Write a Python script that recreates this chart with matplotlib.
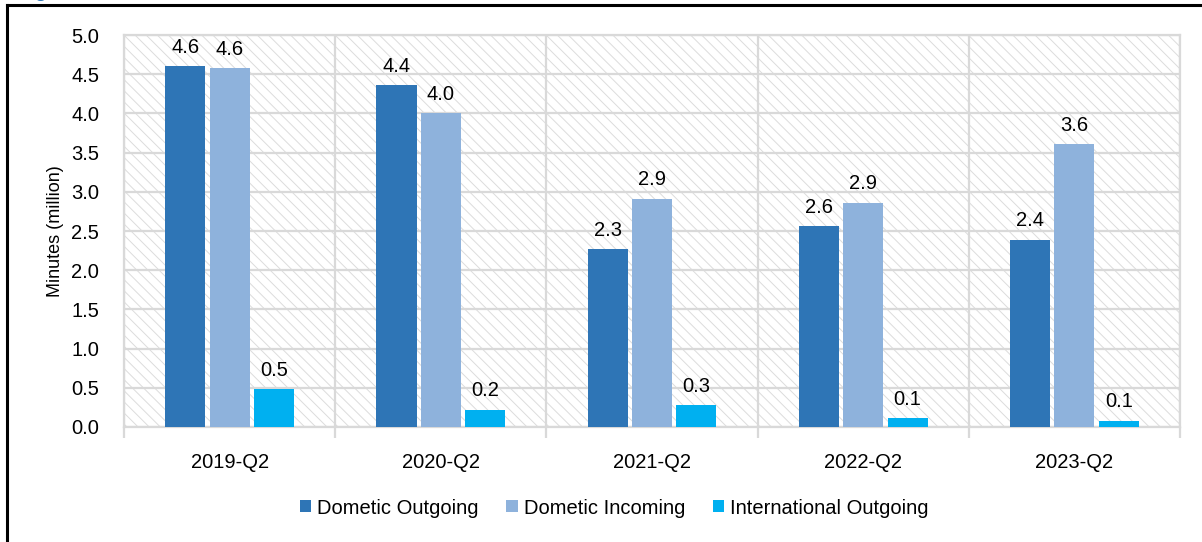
import matplotlib.pyplot as plt
import numpy as np
from matplotlib.lines import Line2D
from matplotlib.patches import Rectangle

plt.rcParams['font.family'] = ['Liberation Sans Narrow', 'Liberation Sans', 'DejaVu Sans']
plt.rcParams['hatch.linewidth'] = 0.7

quarters = ['2019-Q2', '2020-Q2', '2021-Q2', '2022-Q2', '2023-Q2']
dom_out = [4.60, 4.36, 2.27, 2.56, 2.39]
dom_in = [4.58, 4.00, 2.91, 2.86, 3.61]
intl_out = [0.48, 0.22, 0.28, 0.11, 0.08]

series = [
    ('Dometic Outgoing', dom_out, '#2E75B6'),
    ('Dometic Incoming', dom_in, '#8EB2DC'),
    ('International Outgoing', intl_out, '#00B0F0'),
]

fig = plt.figure(figsize=(12.02, 5.42), dpi=100)
ax = fig.add_axes([0.1032, 0.2122, 0.8785, 0.7232])

grid_c = '#d9d9d9'
x = np.arange(len(quarters))
step = 0.21
width = 0.19

# hatched plot background
ax.add_patch(Rectangle((0, 0), 1, 1, transform=ax.transAxes, facecolor='white',
                       edgecolor='#dcdcdc', linewidth=0, hatch='\\\\\\', zorder=0))

for i, (name, vals, col) in enumerate(series):
    pos = x + (i - 1) * step
    bars = ax.bar(pos, vals, width, color=col, label=name, zorder=3)
    for b, v in zip(bars, vals):
        ax.text(b.get_x() + b.get_width() / 2, v + 0.12, f'{v:.1f}',
                ha='center', va='bottom', fontsize=14.5, color='black', zorder=4)

ax.set_xlim(-0.5, len(quarters) - 0.5)
ax.set_ylim(0, 5)
ax.set_yticks(np.arange(0, 5.01, 0.5))
ax.set_yticklabels([f'{t:.1f}' for t in np.arange(0, 5.01, 0.5)])
ax.set_xticks(x)
ax.set_xticklabels(quarters)
ax.set_xticks(np.arange(-0.5, len(quarters)), minor=True)

ax.grid(axis='y', color=grid_c, linewidth=1.6, zorder=1)
ax.grid(axis='x', which='minor', color=grid_c, linewidth=1.6, zorder=1)
ax.set_axisbelow(True)

ax.tick_params(axis='y', length=0, pad=18, labelsize=14.5)
ax.tick_params(axis='x', which='major', length=0, pad=19, labelsize=14.5)
ax.tick_params(axis='x', which='minor', length=8, width=1.6, color=grid_c)
for s in ax.spines.values():
    s.set_color(grid_c)
    s.set_linewidth(1.6)

fig.text(55 / 1202, 0.573, 'Minutes (million)', rotation=90, ha='center', va='center',
         fontsize=13)

fig.legend(loc='center', bbox_to_anchor=(0.511, 1 - 508 / 542), ncol=3, frameon=False,
           fontsize=14.5, handlelength=0.55, handleheight=0.55, handletextpad=0.3,
           columnspacing=1.4)

# outer frame and clipped heading above it
fig.add_artist(Line2D([7 / 1202, 7 / 1202], [0, 1 - 5 / 542], color='black', linewidth=2.2))
fig.add_artist(Line2D([7 / 1202, 1], [1 - 5 / 542, 1 - 5 / 542], color='black', linewidth=2.2))
fig.text(34 / 1202, 1 + 3 / 542, 'g', color='#2E75B6', fontsize=14, fontweight='bold',
         ha='left', va='baseline')

fig.savefig('out.png', dpi=100)
